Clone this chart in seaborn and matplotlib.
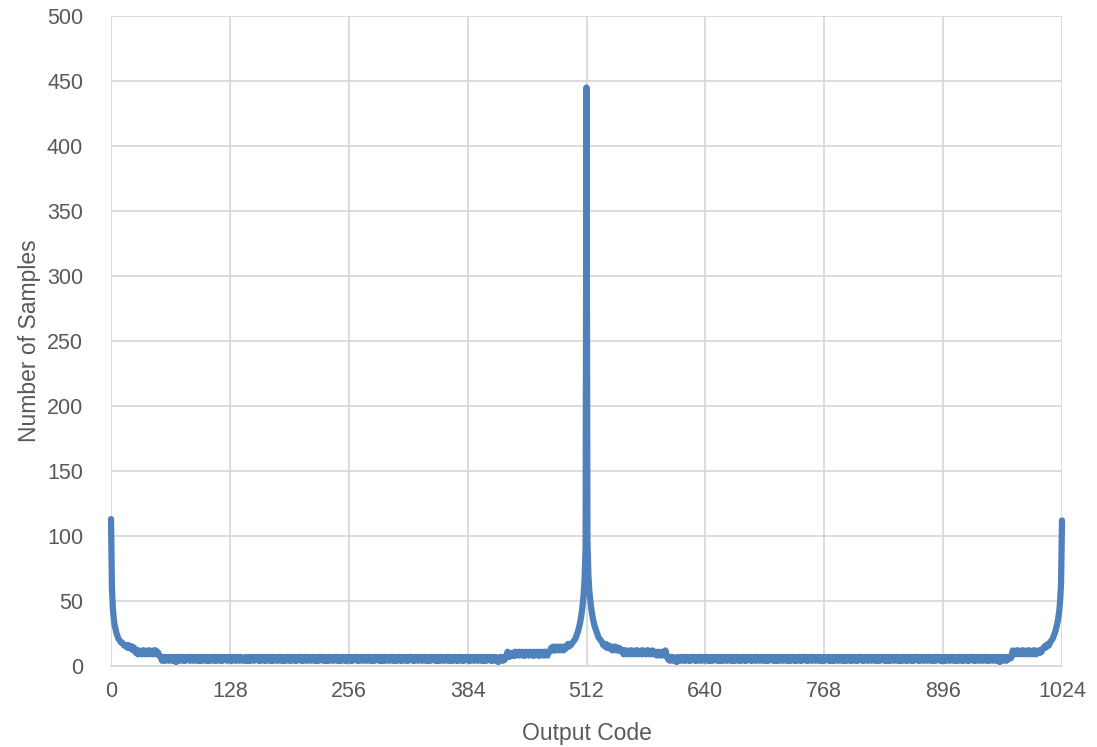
import numpy as np
import pandas as pd
import matplotlib
matplotlib.use("Agg")
import matplotlib.pyplot as plt
import seaborn as sns

# ---- data (counts per output code) ----
edge_left = [113, 60, 44, 36, 31, 28, 25, 23, 21, 20, 19, 18, 18, 17, 16, 16, 15, 16, 14, 16,
             14, 15, 13, 15, 12, 14,
             12, 10, 12, 9, 12, 10, 11, 9, 12, 10, 12, 9, 11, 10, 12, 9, 12, 10, 11, 9,
             12, 10, 12, 9, 11, 10, 8, 7]  # codes 0-53

baseline_left = (
    "6475475647" "5746473757" "4757464756" "7475647574" "5746475746" "7464757475"
    "4757464757" "6475746475" "7465747564" "5747464757" "4757647475" "6474757464"
    "7475647574" "5746475746" "4757464757" "7464757475" "6475746475" "4757647464"
    "7475647574" "5746475746" "4757464757" "7464757475" "6475746475" "4757647464"
    "7475647574" "5746475746" "4757464757" "7464757475" "6475746475" "4757647464"
    "7475647574" "5746475746" "4757464757" "7464757475" "6475746475" "4757647465"
    "746"
)  # codes 54-416

center = ([3, 5, 7, 5, 7, 4, 7, 5, 7, 8, 11, 8, 7, 9, 10, 8] +                     # 417-432
          [10, 8, 11, 8, 10, 9, 11, 8, 10, 9, 11, 8, 10, 8, 11, 9, 10, 8, 11, 9,
           10, 8, 11, 8, 10, 9, 11, 8, 10, 8, 11, 9, 10, 8, 11, 9, 11, 8, 10, 11] +  # 433-472
          [12, 14, 12, 15, 12, 14, 12, 15, 13, 14, 12, 15, 13, 14, 12, 15, 13, 15] +  # 473-490
          [15, 17, 15, 17, 16, 17, 18, 19, 20, 21, 23, 25, 27, 30, 33, 37, 42, 48,
           56, 68, 92] +                                                              # 491-511
          [445] +                                                                     # 512
          [96, 70, 58, 51, 45, 40, 36, 33, 30, 28, 26, 24, 22, 21, 20, 19] +          # 513-528
          [18, 16, 17, 15, 17, 14, 16, 14, 15, 13, 15, 12, 14, 13, 15, 12, 14, 12,
           14, 12, 13, 11] +                                                          # 529-550
          [12, 9, 12, 10, 12, 9, 11, 10, 12, 9, 12, 10, 11, 9, 12, 10, 12, 9,
           11, 10, 12, 9, 12, 10, 11, 9, 12, 10, 12, 9, 11, 10, 12, 9, 11, 9,
           10, 8, 11, 9, 10, 8, 11, 9, 10, 8] +                                       # 551-596
          [12] +                                                                      # 597
          [9, 7, 5, 7, 4, 7, 5, 7, 4, 6])                                             # 598-607

baseline_right = (
    "5375647574" "4757464757" "7464757475" "6475746475" "4757647464" "7475647574"
    "5746475746" "4757464757" "7464757475" "6475746475" "4757647464" "7475647574"
    "5746475746" "4757464757" "7464757475" "6475746475" "4757647464" "7475647574"
    "5746475746" "4757464757" "7464757475" "6475746475" "4757647464" "7475647574"
    "5746475746" "4757464757" "7464757475" "6475746475" "4757647464" "7475647574"
    "5746475746" "4757464757" "7464757475" "6475746475" "6475746473" "5747564757"
    "768"
)  # codes 608-970

edge_right = [12, 9, 11, 10, 12, 9, 12, 10, 11, 9, 12, 10, 12, 9, 11, 10, 12, 9, 12, 10,
              11, 9, 12, 10, 12, 9, 11, 10, 12, 10, 12, 11, 13,
              14, 15, 14, 16, 15, 17, 16, 18, 19, 20, 21, 23, 25, 27, 30, 33, 37, 42, 50,
              64, 112]  # codes 971-1024

x_ticks = [0, 128, 256, 384, 512, 640, 768, 896, 1024]
y_ticks = [0, 50, 100, 150, 200, 250, 300, 350, 400, 450, 500]

counts = (edge_left + [int(c) for c in baseline_left] + center +
          [int(c) for c in baseline_right] + edge_right)
codes = list(range(len(counts)))
df = pd.DataFrame({"Output Code": codes, "Number of Samples": counts})

# ---- styling ----
sns.set_theme(style="whitegrid")
plt.rcParams["font.family"] = ["Liberation Sans", "DejaVu Sans"]

fig = plt.figure(figsize=(10.97, 7.47), dpi=100)
ax = fig.add_axes([0.1012, 0.1084, 0.8669, 0.8702])

sns.lineplot(data=df, x="Output Code", y="Number of Samples", ax=ax,
             color="#4F81BD", linewidth=4.5, solid_capstyle="round",
             solid_joinstyle="round", clip_on=False)

ax.set_xlim(0, 1024)
ax.set_ylim(0, 500)
ax.set_xticks(x_ticks)
ax.set_yticks(y_ticks)
ax.set_facecolor("white")
ax.grid(True, color="#D9D9D9", linewidth=1.3)
for side in ["top", "right", "left"]:
    ax.spines[side].set_visible(False)
ax.spines["bottom"].set_visible(True)
ax.spines["bottom"].set_color("#D9D9D9")
ax.spines["bottom"].set_linewidth(1.3)

ax.tick_params(axis="both", length=0, labelsize=15.5, colors="#595959")
ax.tick_params(axis="y", pad=20)
ax.tick_params(axis="x", pad=11)
ax.set_xlabel("Output Code", fontsize=16.5, color="#595959", labelpad=14)
ax.set_ylabel("Number of Samples", fontsize=16.5, color="#595959", labelpad=4)

fig.savefig("out.png", dpi=100, facecolor="white")
